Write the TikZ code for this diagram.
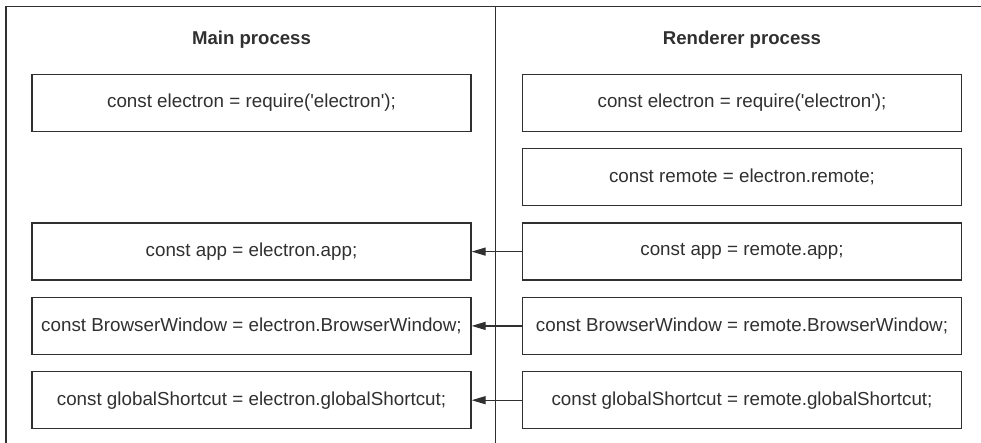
\documentclass[tikz,border=0pt]{standalone}
\usepackage{fontspec}
\setmainfont{Liberation Sans}
\usepackage{xcolor}
\usetikzlibrary{arrows.meta,positioning}

\definecolor{ink}{HTML}{303030}
\newcommand{\q}{\textquotesingle}

\begin{document}
\begin{tikzpicture}[x=1pt, y=1pt, node distance=16pt, ink,
    codebox/.style={draw, line width=1.3pt, minimum width=439pt, minimum height=57pt,
      inner sep=0pt, font=\fontsize{18.8pt}{22pt}\selectfont},
    header/.style={anchor=base, font=\fontsize{18.6pt}{22pt}\selectfont\bfseries},
    call/.style={line width=1.3pt, -{Triangle[length=14pt,width=8pt]}}]
  \useasboundingbox (0,0) rectangle (981,-443);

  % frame and divider
  \draw[line width=1.6pt] (6,-443) -- (6,-6.5) -- (981,-6.5);
  \draw[line width=1.6pt] (495.5,-6.5) -- (495.5,-443);

  \node (mhead) [header] at (251.5,-45) {Main process};
  \node (rhead) [header] at (742,-45) {Renderer process};

  % renderer side
  \node (rreq) [codebox] at (742,-103) {const electron = require(\q electron\q);};
  \node (rremote) [codebox, below=of rreq] {const remote = electron.remote;};
  \node (rapp) [codebox, below=of rremote] {const app = remote.app;};
  \node (rwin) [codebox, below=of rapp] {const BrowserWindow = remote.BrowserWindow;};
  \node (rshort) [codebox, below=of rwin] {const globalShortcut = remote.globalShortcut;};

  % main side
  \node (mreq) [codebox] at (251.5,-103) {const electron = require(\q electron\q);};
  \node (mapp) [codebox] at (mreq |- rapp) {const app = electron.app;};
  \node (mwin) [codebox] at (mreq |- rwin) {const BrowserWindow = electron.BrowserWindow;};
  \node (mshort) [codebox] at (mreq |- rshort) {const globalShortcut = electron.globalShortcut;};

  \draw[call] (rapp) -- (mapp);
  \draw[call] (rwin) -- (mwin);
  \draw[call] (rshort) -- (mshort);
\end{tikzpicture}
\end{document}
